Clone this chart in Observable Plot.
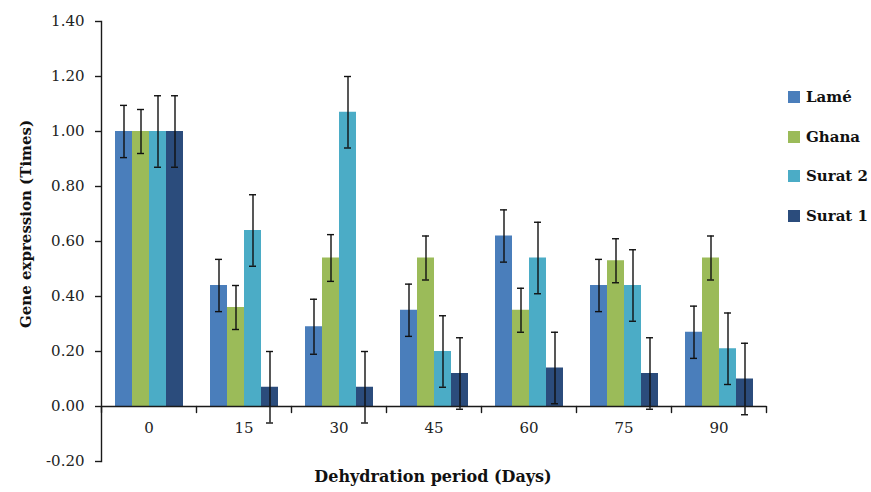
<!DOCTYPE html>
<html>
<head>
<meta charset="utf-8">
<script src="https://cdn.jsdelivr.net/npm/d3@7"></script>
<script src="https://cdn.jsdelivr.net/npm/@observablehq/plot@0.6"></script>
<style>
  html, body { margin: 0; padding: 0; background: #fff; }
  #wrap { position: relative; width: 871px; height: 492px; }
  .leg { position: absolute; left: 788px; display: flex; align-items: center; font-family: "DejaVu Serif", serif; font-weight: bold; font-size: 15px; color: #111; }
  .leg span.sw { display: inline-block; width: 12px; height: 12px; margin-right: 6px; }
</style>
</head>
<body>
<div id="wrap"></div>
<script>
const days = [0, 15, 30, 45, 60, 75, 90];
const series = ["Lamé", "Ghana", "Surat 2", "Surat 1"];
const colors = ["#4a7ebb", "#9bbb59", "#4bacc6", "#2b4c7c"];

const lame   = [1.00, 0.44, 0.29, 0.35, 0.62, 0.44, 0.27];
const ghana  = [1.00, 0.36, 0.54, 0.54, 0.35, 0.53, 0.54];
const surat2 = [1.00, 0.64, 1.07, 0.20, 0.54, 0.44, 0.21];
const surat1 = [1.00, 0.07, 0.07, 0.12, 0.14, 0.12, 0.10];

const lameErr   = [0.095, 0.095, 0.10, 0.095, 0.095, 0.095, 0.095];
const ghanaErr  = [0.08, 0.08, 0.085, 0.08, 0.08, 0.08, 0.08];
const surat2Err = [0.13, 0.13, 0.13, 0.13, 0.13, 0.13, 0.13];
const surat1Err = [0.13, 0.13, 0.13, 0.13, 0.13, 0.13, 0.13];

const yTicks = [-0.2, 0, 0.2, 0.4, 0.6, 0.8, 1.0, 1.2, 1.4];

const values = [lame, ghana, surat2, surat1];
const errs = [lameErr, ghanaErr, surat2Err, surat1Err];
const data = [];
days.forEach((d, i) => series.forEach((s, j) => data.push({day: d, series: s, value: values[j][i], err: errs[j][i]})));

const tickShape = {draw(context, l) { context.moveTo(0, 0); context.lineTo(0, -l); }};

const plot = Plot.plot({
  width: 871,
  height: 492,
  marginLeft: 98,
  marginRight: 102,
  marginTop: 21,
  marginBottom: 31,
  style: {fontFamily: "DejaVu Serif, serif", fontSize: "15px", color: "#222", background: "#fff"},
  fx: {domain: days, padding: 0, axis: null},
  x: {domain: series, paddingInner: 0, paddingOuter: 0.76, axis: null},
  y: {domain: [-0.2, 1.4], axis: null},
  color: {domain: series, range: colors},
  marks: [
    Plot.barY(data, {fx: "day", x: "series", y: "value", fill: "series"}),
    Plot.ruleX(data, {fx: "day", x: "series", y1: d => d.value - d.err, y2: d => d.value + d.err, stroke: "#111", strokeWidth: 1.4}),
    Plot.tickY(data, {fx: "day", x: "series", y: d => d.value + d.err, stroke: "#111", strokeWidth: 1.4, insetLeft: 5, insetRight: 5}),
    Plot.tickY(data, {fx: "day", x: "series", y: d => d.value - d.err, stroke: "#111", strokeWidth: 1.4, insetLeft: 5, insetRight: 5}),
    Plot.ruleY([0], {stroke: "#1a1a1a", strokeWidth: 1.4}),
    Plot.vector(days, {fx: d => d, y: 0, frameAnchor: "left", rotate: 180, length: 6, anchor: "start", stroke: "#1a1a1a", strokeWidth: 1.4, shape: tickShape}),
    Plot.vector([90], {fx: d => d, y: 0, frameAnchor: "right", rotate: 180, length: 6, anchor: "start", stroke: "#1a1a1a", strokeWidth: 1.4, shape: tickShape}),
    Plot.text(days, {fx: d => d, text: d => String(d), frameAnchor: "bottom", dy: -29, fill: "#222"}),
    Plot.frame({anchor: "left", facetAnchor: "left", stroke: "#1a1a1a", strokeWidth: 1.4}),
    Plot.axisY(yTicks, {tickFormat: d => d.toFixed(2), tickSize: 6, tickPadding: 11, label: null, stroke: "#1a1a1a", strokeWidth: 1.4, fill: "#222"})
  ]
});

const wrap = document.getElementById("wrap");
wrap.appendChild(plot);

const svg = d3.select(plot);
svg.append("text")
  .attr("transform", "translate(31,224) rotate(-90)")
  .attr("text-anchor", "middle")
  .attr("font-family", "DejaVu Serif, serif")
  .attr("font-weight", "bold")
  .attr("font-size", "15px")
  .attr("fill", "#111")
  .text("Gene expression (Times)");
svg.append("text")
  .attr("x", 433)
  .attr("y", 482)
  .attr("text-anchor", "middle")
  .attr("font-family", "DejaVu Serif, serif")
  .attr("font-weight", "bold")
  .attr("font-size", "16px")
  .attr("fill", "#111")
  .text("Dehydration period (Days)");

series.forEach((s, i) => {
  const div = document.createElement("div");
  div.className = "leg";
  div.style.top = (97 + i * 39.7 - 10) + "px";
  div.style.height = "20px";
  div.innerHTML = `<span class="sw" style="background:${colors[i]}"></span>${s}`;
  wrap.appendChild(div);
});
</script>
</body>
</html>
